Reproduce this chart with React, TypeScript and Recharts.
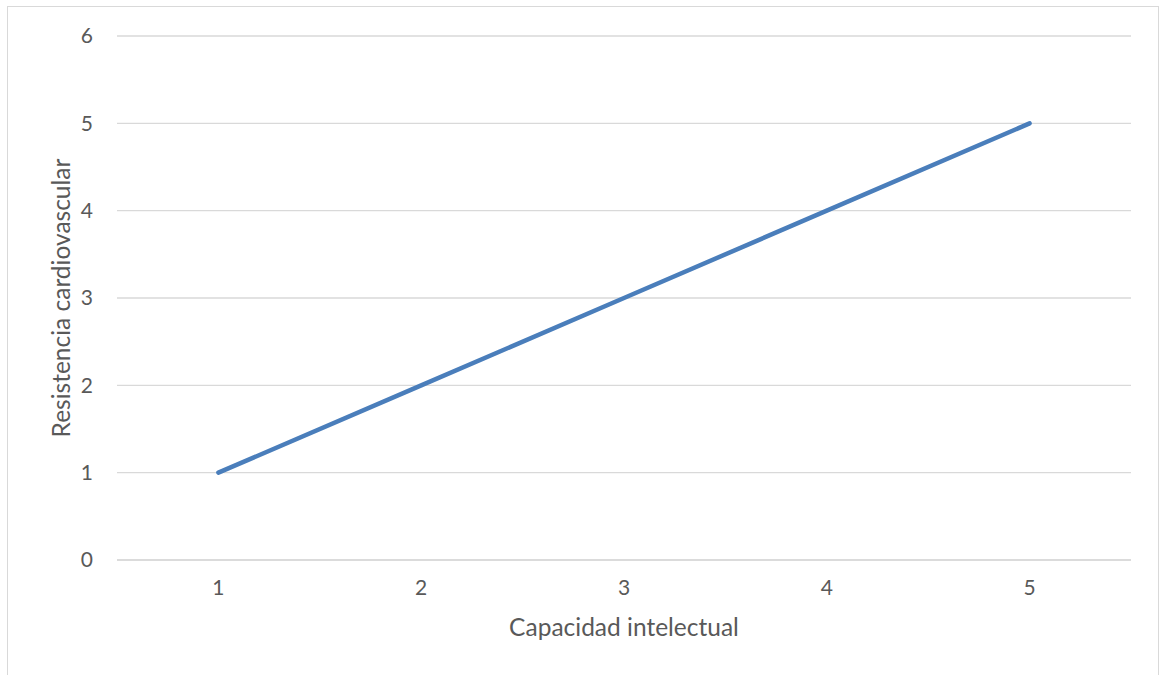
import React from 'react';
import { LineChart, Line, XAxis, YAxis, CartesianGrid } from 'recharts';

const categories = ['1', '2', '3', '4', '5'];
const resistencia = [1, 2, 3, 4, 5];
const yTicks = [0, 1, 2, 3, 4, 5, 6];

const data = categories.map((c, i) => ({ cat: c, value: resistencia[i] }));

const FONT = 'Lato, "Open Sans", sans-serif';
const TEXT_COLOR = '#595959';

export default function App() {
  return (
    <div style={{ position: 'absolute', left: 0, top: 0, width: 1161, height: 675, overflow: 'hidden', background: '#fff' }}>
      <div
        style={{
          position: 'absolute',
          left: 7,
          top: 6,
          width: 1152,
          height: 690,
          border: '1px solid #d9d9d9',
          boxSizing: 'border-box',
        }}
      />
      <div style={{ position: 'absolute', left: 0, top: 0 }}>
        <LineChart
          width={1161}
          height={675}
          data={data}
          margin={{ top: 36, right: 30, bottom: 85, left: 0 }}
        >
          <CartesianGrid vertical={false} stroke="#d9d9d9" strokeWidth={1.3} />
          <XAxis
            dataKey="cat"
            scale="band"
            height={30}
            axisLine={{ stroke: '#d9d9d9', strokeWidth: 1.3 }}
            tickLine={false}
            tickSize={0}
            tickMargin={20}
            tick={{ fill: TEXT_COLOR, fontSize: 21, fontFamily: FONT }}
            label={{
              value: 'Capacidad intelectual',
              position: 'bottom',
              offset: 29,
              style: { fill: TEXT_COLOR, fontSize: 24.5, fontFamily: FONT },
            }}
          />
          <YAxis
            width={117}
            domain={[0, 6]}
            ticks={yTicks}
            interval={0}
            axisLine={false}
            tickLine={false}
            tickSize={0}
            tickMargin={24}
            tick={{ fill: TEXT_COLOR, fontSize: 21, fontFamily: FONT }}
            label={{
              value: 'Resistencia cardiovascular',
              angle: -90,
              position: 'insideLeft',
              offset: 61,
              style: { fill: TEXT_COLOR, fontSize: 24.5, fontFamily: FONT, textAnchor: 'middle' },
            }}
          />
          <Line
            type="linear"
            dataKey="value"
            stroke="#4a7ebb"
            strokeWidth={4.5}
            strokeLinecap="round"
            dot={false}
            activeDot={false}
            isAnimationActive={false}
          />
        </LineChart>
      </div>
    </div>
  );
}
